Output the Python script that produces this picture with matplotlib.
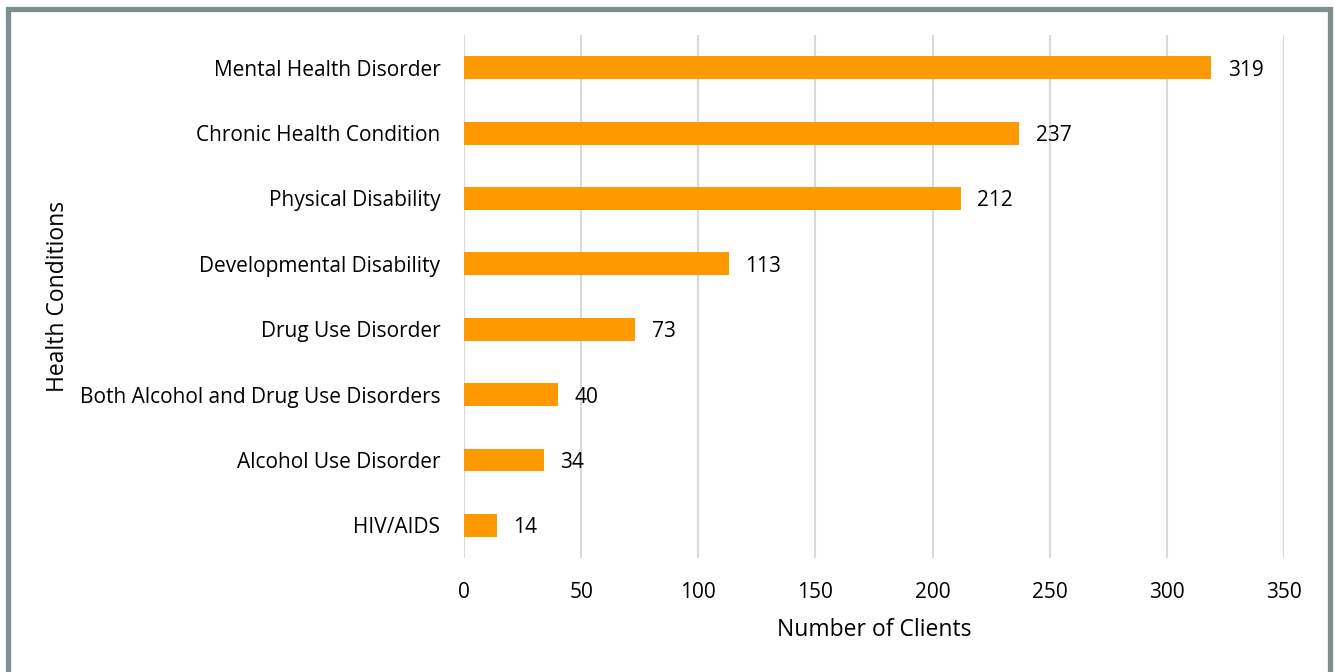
import matplotlib.pyplot as plt
from matplotlib.patches import Rectangle

categories = ['Mental Health Disorder', 'Chronic Health Condition', 'Physical Disability',
              'Developmental Disability', 'Drug Use Disorder',
              'Both Alcohol and Drug Use Disorders', 'Alcohol Use Disorder', 'HIV/AIDS']
clients = [319, 237, 212, 113, 73, 40, 34, 14]
xticks = [0, 50, 100, 150, 200, 250, 300, 350]

plt.rcParams['font.family'] = ['Open Sans', 'DejaVu Sans']

fig = plt.figure(figsize=(13.35, 6.72), dpi=100)
ax = fig.add_axes([0.3476, 0.1696, 0.6142, 0.7783])

ypos = list(range(len(categories)))[::-1]
ax.barh(ypos, clients, height=0.35, color='#FF9900', zorder=3)
for y, v in zip(ypos, clients):
    ax.annotate(str(v), (v, y), xytext=(12, 0), textcoords='offset points',
                va='center_baseline', ha='left', fontsize=15, color='#000000')

ax.set_xlim(0, 350)
ax.set_ylim(-0.5, len(categories) - 0.5)
ax.set_xticks(xticks)
ax.set_yticks(ypos)
ax.set_yticklabels(categories)
ax.tick_params(axis='both', length=0, labelsize=15, colors='#000000')
ax.tick_params(axis='x', pad=17)
ax.tick_params(axis='y', pad=17)
ax.grid(axis='x', color='#d9d9d9', linewidth=1.5, zorder=0)
for s in ax.spines.values():
    s.set_visible(False)

ax.set_xlabel('Number of Clients', fontsize=16.5, labelpad=11)
ax.set_ylabel('Health Conditions', fontsize=16.5)
ax.yaxis.set_label_coords(-0.48, 0.5)

# grey frame around the chart (no bottom edge visible)
fig.patches.append(Rectangle((7.5 / 1335, -0.1), 1 - 12.5 / 1335, 1.1 - 8.5 / 672,
                             transform=fig.transFigure, fill=False,
                             edgecolor='#7f8e8e', linewidth=3.8))

fig.savefig('out.png', dpi=100)
